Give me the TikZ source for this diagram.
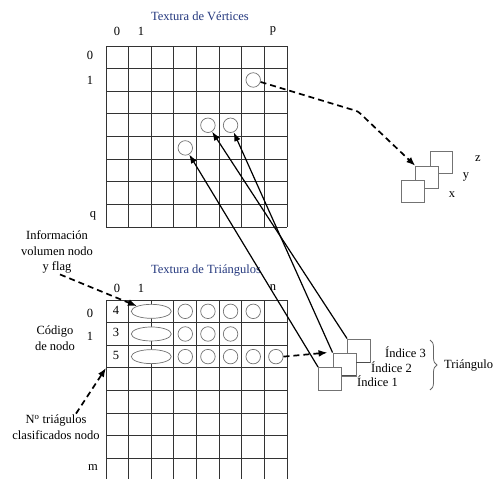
\documentclass[tikz,border=0pt]{standalone}
\usepackage{fontspec}
\setmainfont{Liberation Serif}
\usepackage{tikz}
\usetikzlibrary{arrows.meta,positioning,calc,shapes.geometric,decorations.pathreplacing}
\definecolor{azultitulo}{RGB}{35,55,125}
\tikzstyle{celda}=[draw=black!80,line width=1pt]
\tikzstyle{vert}=[draw=black!55,circle,minimum size=14.5pt,inner sep=0pt,line width=0.7pt]
\tikzstyle{info}=[draw=black!55,fill=white,ellipse,minimum width=40pt,minimum height=14pt,inner sep=0pt,line width=0.7pt]
\tikzstyle{indice}=[draw=black!55,fill=white,minimum size=23pt,inner sep=0pt,line width=0.9pt]
\tikzstyle{txt}=[font=\fontsize{12.5}{15.5}\selectfont,inner sep=1pt]
\tikzstyle{titulo}=[txt,text=azultitulo]
\tikzstyle{flecha}=[line width=1.2pt,-{Latex[length=9pt,width=6.5pt]}]
\tikzstyle{rayas}=[line width=1.7pt,dash pattern=on 6pt off 4pt,-{Latex[length=9pt,width=7pt]}]

\begin{document}
\begin{tikzpicture}[x=1pt,y=-1pt]
\useasboundingbox (0,0) rectangle (496,479);
\def\cw{22.65}
\foreach \i in {0,...,8} {
  \draw[celda] (106+\i*\cw,46) -- (106+\i*\cw,46+8*\cw);
  \draw[celda] (106,46+\i*\cw) -- (106+8*\cw,46+\i*\cw);
  \draw[celda] (106+\i*\cw,300) -- (106+\i*\cw,479);
}
\foreach \i in {0,...,7}
  \draw[celda] (106,300+\i*\cw) -- (106+8*\cw,300+\i*\cw);
\coordinate (esq) at (106,300+3*\cw);

\node[titulo] (tv) at (200,16) {Textura de Vértices};
\node[titulo] (tt) at (206,271) {Textura de Triángulos};
\foreach \t/\x in {0/117,1/141,p/273} {
  \node[txt] (cv\t) at (\x,31) {\t};
}
\foreach \t/\x in {0/117,1/141,n/273} {
  \node[txt] (ct\t) at (\x,288) {\t};
}
\node[txt] (fv0) at (90,55) {0};
\node[txt] (fv1) at (90,80) {1};
\node[txt] (fvq) at (93,216) {q};
\node[txt] (ft0) at (90,313) {0};
\node[txt] (ft1) at (90,336) {1};
\node[txt] (ftm) at (93,468) {m};

\node[vert] (vp) at (106+6.5*\cw,46+1.5*\cw) {};
\node[vert] (va) at (106+4.5*\cw,46+3.5*\cw) {};
\node[vert] (vb) at (106+5.5*\cw,46+3.5*\cw) {};
\node[vert] (vc) at (106+3.5*\cw,46+4.5*\cw) {};

\foreach \r/\k/\n in {0/4/6,1/3/5,2/5/7} {
  \node[info] (e\r) at (106+2*\cw,300+\r*\cw+0.5*\cw) {};
  \node[txt] (k\r) at (116,300+\r*\cw+0.45*\cw) {\k};
  \foreach \c in {3,...,\n}
    \node[vert] (t\r\c) at (106+\c*\cw+0.5*\cw,300+\r*\cw+0.5*\cw) {};
}

\node[txt,align=center] (linfo) at (57,252) {Información\\volumen nodo\\y flag};
\node[txt,align=center] (lcod) at (55,338) {Código\\de nodo};
\node[txt,align=center] (lnum) at (56,427) {N\textsuperscript{o} triágulos\\clasificados nodo};

\node[indice] (s3) at (359,350.5) {};
\node[indice] (s2) at (344.5,364.5) {};
\node[indice] (s1) at (330,379) {};
\node[txt,anchor=west] (i3) at (384,352) {Índice 3};
\node[txt,anchor=west] (i2) at (370,367) {Índice 2};
\node[txt,anchor=west] (i1) at (356,381) {Índice 1};
\draw[black!70,line width=0.9pt] (s1.15) -- (s1.15 -| i1.west);
\draw[black!70,line width=0.9pt] (s2.12) -- (s2.12 -| i2.west);
\draw[black!60,line width=0.8pt,decorate,decoration={brace,amplitude=7pt}] (430,340) -- (430,390);
\node[txt,anchor=west] (tri) at (443,366) {Triángulo};

\node[indice,minimum size=22.5pt] (sz) at (441.5,162.5) {};
\node[indice,minimum size=22.5pt] (sy) at (427,177.5) {};
\node[indice,minimum size=22.5pt] (sx) at (413,191.5) {};
\node[txt] (lx) at (452,195) {x};
\node[txt] (ly) at (466,177) {y};
\node[txt] (lz) at (478,159) {z};

\draw[flecha] (s1.north west) -- (vc);
\draw[flecha] (s2.north west) -- (vb);
\draw[flecha] (s3.north west) -- (va);
\draw[rayas] (vp.-15) -- (350,109) .. controls (358,111) .. (366,119) -- (sy.north west);
\draw[rayas] (t27.east) -- ($(s2.north west)+(-5,0)$);
\draw[rayas] ($(linfo.south)+(3,0)$) -- (e0.160);
\draw[rayas] ($(lnum.north)+(20,0)$) -- (esq);
\end{tikzpicture}
\end{document}
